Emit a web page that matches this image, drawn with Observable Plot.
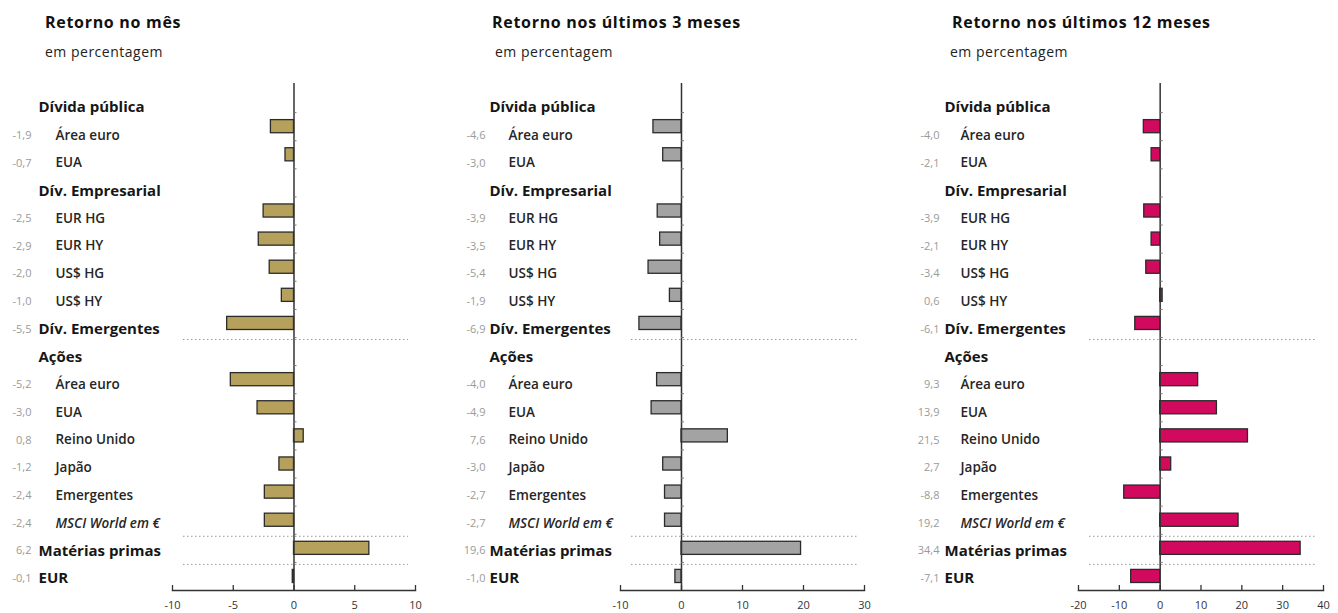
<!DOCTYPE html>
<html>
<head>
<meta charset="utf-8">
<script src="https://cdn.jsdelivr.net/npm/d3@7"></script>
<script src="https://cdn.jsdelivr.net/npm/@observablehq/plot@0.6"></script>
<style>
  html, body { margin: 0; padding: 0; background: #fff; }
  body { width: 1338px; height: 613px; overflow: hidden; font-family: "Open Sans", sans-serif; }
  #row { display: flex; flex-direction: row; }
  .panel { width: 446px; position: relative; }
  .head { height: 70px; position: relative; }
  .title { position: absolute; top: 11px; font-weight: 700; font-size: 16px; line-height: 22px; color: #111; letter-spacing: 0.7px; white-space: nowrap; }
  .sub { position: absolute; top: 42px; font-size: 14px; line-height: 20px; color: #222; letter-spacing: 0.5px; white-space: nowrap; }
  .panel svg { display: block; overflow: visible; }
</style>
</head>
<body>
<div id="row"></div>
<script>
// ---- data ----
const categories = [
  "Dívida pública", "Área euro", "EUA",
  "Dív. Empresarial", "EUR HG", "EUR HY", "US$ HG", "US$ HY",
  "Dív. Emergentes",
  "Ações", "Área euro", "EUA", "Reino Unido", "Japão", "Emergentes", "MSCI World em €",
  "Matérias primas",
  "EUR"
];
const levels = [
  "header", "sub", "sub",
  "header", "sub", "sub", "sub", "sub",
  "header",
  "header", "sub", "sub", "sub", "sub", "sub", "sub",
  "header",
  "header"
];
const retornoMes = [null, -1.9, -0.7, null, -2.5, -2.9, -2.0, -1.0, -5.5, null, -5.2, -3.0, 0.8, -1.2, -2.4, -2.4, 6.2, -0.1];
const retorno3m  = [null, -4.6, -3.0, null, -3.9, -3.5, -5.4, -1.9, -6.9, null, -4.0, -4.9, 7.6, -3.0, -2.7, -2.7, 19.6, -1.0];
const retorno12m = [null, -4.0, -2.1, null, -3.9, -2.1, -3.4, 0.6, -6.1, null, 9.3, 13.9, 21.5, 2.7, -8.8, 19.2, 34.4, -7.1];
const titles = ["Retorno no mês", "Retorno nos últimos 3 meses", "Retorno nos últimos 12 meses"];
const subtitle = "em percentagem";
const xTicks1 = [-10, -5, 0, 5, 10];
const xTicks2 = [-10, 0, 10, 20, 30];
const xTicks3 = [-20, -10, 0, 10, 20, 30, 40];
const separatorsAfter = [8, 15, 16]; // row indices after which a dotted line is drawn

// ---- layout / style ----
const panels = [
  {values: retornoMes, ticks: xTicks1, color: "#b5a05c", marginLeft: 172, marginRight: 31,
   valX: 31, headX: 38, subX: 55, titleX: 45, subtitleX: 45},
  {values: retorno3m, ticks: xTicks2, color: "#a3a3a3", marginLeft: 174, marginRight: 28,
   valX: 39, headX: 43, subX: 62, titleX: 46, subtitleX: 49},
  {values: retorno12m, ticks: xTicks3, color: "#d20a5e", marginLeft: 186, marginRight: 15,
   valX: 47, headX: 52, subX: 68, titleX: 60, subtitleX: 58}
];
const W = 446, H = 543, MT = 14, MB = 23;
const frameH = H - MT - MB;
const step = frameH / categories.length;
const labelDy = i => 9 - 0.4 * i; // labels sit slightly lower than bars
const fmt = v => v.toFixed(1).replace(".", ",");

const row = document.getElementById("row");
panels.forEach((p, pi) => {
  const rows = categories.map((c, i) => ({key: i, label: c, level: levels[i], value: p.values[i]}));
  const withVal = rows.filter(d => d.value != null);
  const seps = separatorsAfter.map(i => ({key: i}));
  const domain = [p.ticks[0], p.ticks[p.ticks.length - 1]];

  const labelMarks = rows.flatMap(d => {
    const marks = [];
    const isHead = d.level === "header";
    marks.push(Plot.text([d], {y: "key", text: "label", frameAnchor: "left",
      dx: (isHead ? p.headX : p.subX) - p.marginLeft, dy: labelDy(d.key), textAnchor: "start",
      fontSize: isHead ? 15 : 13.5, fontWeight: isHead ? 700 : 600, fill: isHead ? "#161616" : "#262626",
      fontStyle: d.label.startsWith("MSCI") ? "italic" : "normal", letterSpacing: "0.3px"}));
    if (d.value != null) {
      marks.push(Plot.text([d], {y: "key", text: r => fmt(r.value), frameAnchor: "left",
        dx: p.valX - p.marginLeft, dy: labelDy(d.key), textAnchor: "end", fontSize: 11, fill: "#9a9a9a"}));
    }
    return marks;
  });

  const chart = Plot.plot({
    width: W, height: H,
    marginLeft: p.marginLeft, marginRight: p.marginRight, marginTop: MT, marginBottom: MB,
    style: {fontFamily: "Open Sans, sans-serif", background: "transparent"},
    x: {domain, ticks: p.ticks, axis: null},
    y: {domain: d3.range(categories.length), axis: null, padding: 0, round: false},
    marks: [
      // dotted separators
      Plot.ruleY(seps, {y: "key", dy: step / 2 + 2, stroke: "#999", strokeDasharray: "1.5,2.5", strokeWidth: 1,
        insetLeft: 11, insetRight: 7}),
      // bars
      Plot.barX(withVal, {y: "key", x: "value", fill: p.color, stroke: "#2b2b2b", strokeWidth: 1.3,
        insetTop: 7.5, insetBottom: 7.5}),
      // zero line
      Plot.ruleX([0], {stroke: "#333", strokeWidth: 1.5, insetTop: -1}),
      // small ticks on the zero line at row boundaries
      Plot.ruleY(rows.slice(0, -1), {y: "key", dy: step / 2, x1: 0, x2: 0, insetRight: -3, stroke: "#777", strokeWidth: 1}),
      // x axis baseline and inward ticks
      Plot.frame({anchor: "bottom", stroke: "#333", strokeWidth: 1.5}),
      Plot.tickX(p.ticks, {x: d => d, insetTop: frameH - 5, stroke: "#333", strokeWidth: 1.3}),
      Plot.axisX({ticks: p.ticks, tickSize: 0, tickPadding: 11, fontSize: 11, fill: "#333", label: null,
        tickFormat: d => String(d)}),
      ...labelMarks
    ]
  });

  const div = document.createElement("div");
  div.className = "panel";
  const head = document.createElement("div");
  head.className = "head";
  const t = document.createElement("div");
  t.className = "title"; t.style.left = p.titleX + "px"; t.textContent = titles[pi];
  const s = document.createElement("div");
  s.className = "sub"; s.style.left = p.subtitleX + "px"; s.textContent = subtitle;
  head.appendChild(t); head.appendChild(s);
  div.appendChild(head);
  div.appendChild(chart);
  row.appendChild(div);
});
</script>
</body>
</html>
